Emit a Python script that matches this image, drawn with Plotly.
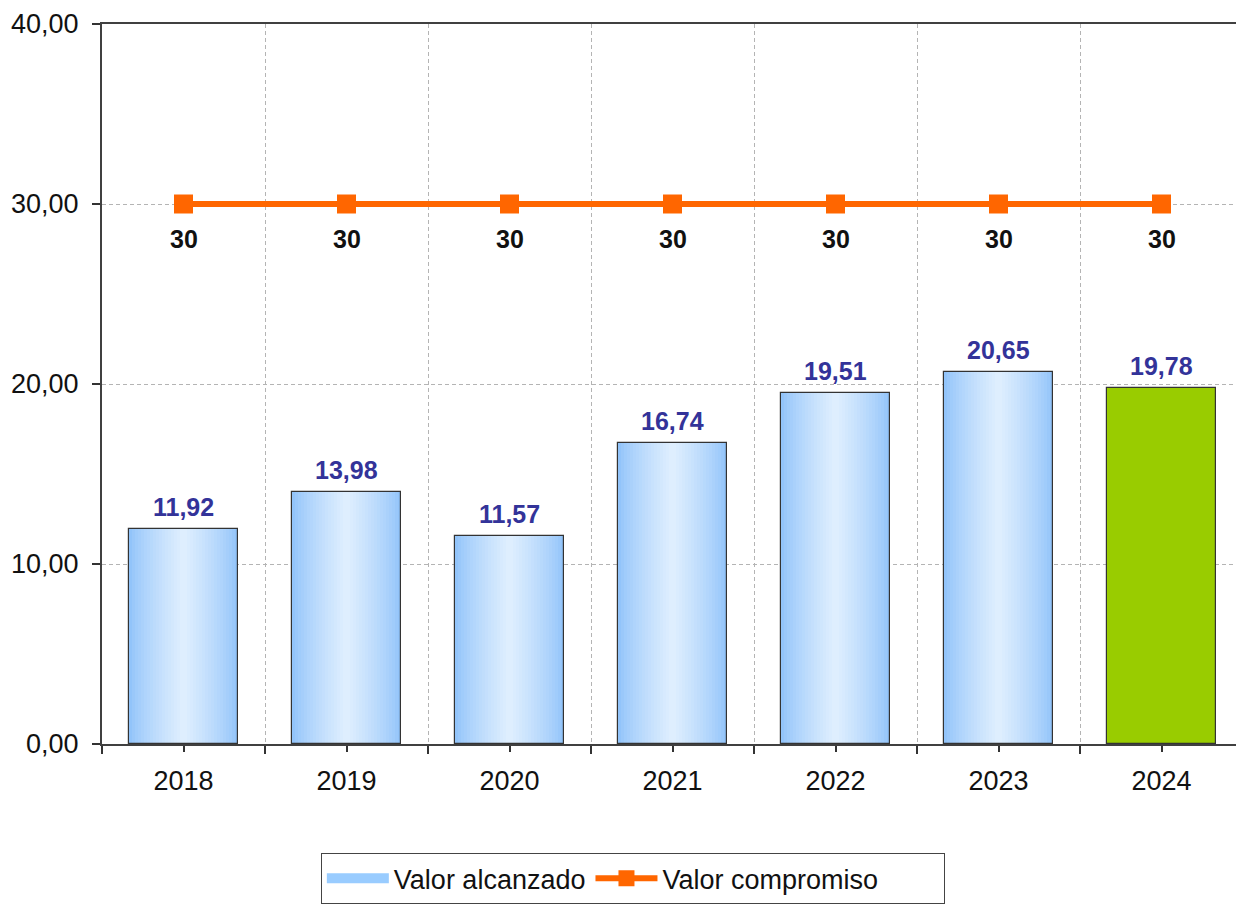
import plotly.graph_objects as go

# ---- data ----
years = ["2018", "2019", "2020", "2021", "2022", "2023", "2024"]
valor_alcanzado = [11.92, 13.98, 11.57, 16.74, 19.51, 20.65, 19.78]
valor_compromiso = [30, 30, 30, 30, 30, 30, 30]
highlight_year = "2024"
y_ticks = [0, 10, 20, 30, 40]
series_names = ["Valor alcanzado", "Valor compromiso"]

# ---- style ----
FONT = "Liberation Sans, Arial, sans-serif"
BAR_W = 0.665
EDGE = (146, 196, 250)
CENTER = (222, 238, 254)
GREEN = "#99CC00"
ORANGE = "#FF6600"
LABEL_BLUE = "#333399"
GRID = "#b4b4b4"

xs = list(range(len(years)))
fig = go.Figure()

n_layers = 18
for k in range(n_layers):
    f = k / (n_layers - 1)
    c = tuple(round(EDGE[i] + (CENTER[i] - EDGE[i]) * (f ** 0.8)) for i in range(3))
    col = "rgb(%d,%d,%d)" % c
    colors = [GREEN if y == highlight_year else col for y in years]
    fig.add_trace(go.Bar(
        x=xs, y=valor_alcanzado,
        width=BAR_W * (1 - k / n_layers),
        marker=dict(color=colors, line=dict(width=0)),
        showlegend=False,
        hoverinfo="skip" if k > 0 else None,
        name=series_names[0],
    ))

# outline on top
fig.add_trace(go.Bar(
    x=xs, y=valor_alcanzado, width=BAR_W,
    marker=dict(color="rgba(0,0,0,0)", line=dict(color="#333333", width=1.2)),
    showlegend=False, hoverinfo="skip",
))

# legend entry for bars
fig.add_trace(go.Scatter(
    x=[None], y=[None], mode="lines",
    line=dict(color="#99CCFF", width=14),
    name=series_names[0], legendrank=1,
))

fig.add_trace(go.Scatter(
    x=xs, y=valor_compromiso, mode="lines+markers",
    line=dict(color=ORANGE, width=6),
    marker=dict(symbol="square", size=19, color=ORANGE),
    name=series_names[1] + "\u00a0" * 8, legendrank=2,
))

annotations = []
for x, v in zip(xs, valor_alcanzado):
    annotations.append(dict(
        x=x, y=v, xref="x", yref="y", text=f"{v:.2f}".replace(".", ","),
        showarrow=False, yanchor="bottom", yshift=6,
        font=dict(family=FONT, size=25, color=LABEL_BLUE, weight="bold"),
    ))
for x, v in zip(xs, valor_compromiso):
    annotations.append(dict(
        x=x, y=v, xref="x", yref="y", text=f"{v:g}",
        showarrow=False, yanchor="middle", yshift=-35,
        font=dict(family=FONT, size=25, color="#111111", weight="bold"),
    ))

fig.update_layout(
    width=1236, height=897,
    margin=dict(l=94, r=1, t=16, b=149),
    paper_bgcolor="white", plot_bgcolor="white",
    barmode="overlay", bargap=0,
    separators=",.",
    font=dict(family=FONT, size=27, color="#111111"),
    annotations=annotations,
    showlegend=True,
    legend=dict(
        orientation="h", x=0.1918, y=-0.1516, xanchor="left", yanchor="top",
        bordercolor="#444444", borderwidth=1, bgcolor="white",
        font=dict(family=FONT, size=27, color="#111111"),
        itemwidth=62, traceorder="normal",
    ),
)

fig.update_xaxes(
    range=[-0.5, len(years) - 0.5], automargin=False,
    tickmode="array", tickvals=xs, ticktext=years,
    ticks="outside", ticklen=6, tickcolor="#333333", tickwidth=1.5,
    showgrid=False, zeroline=False,
    showline=True, linecolor="#404040", linewidth=2, mirror=True,
    tickfont=dict(family=FONT, size=27, color="#111111"),
    ticklabelstandoff=6, ticklabeloverflow="allow",
    minor=dict(tickmode="array", tickvals=[x - 0.5 for x in xs] + [xs[-1] + 0.5],
               ticks="outside", ticklen=8, tickcolor="#333333", tickwidth=1.5,
               showgrid=True, gridcolor=GRID, griddash="4px,3px", gridwidth=1),
)
fig.update_yaxes(
    range=[0, 40], automargin=False,
    tickmode="array", tickvals=y_ticks, tickformat=".2f",
    ticks="outside", ticklen=8, tickcolor="#333333", tickwidth=1.5,
    showgrid=True, gridcolor=GRID, griddash="4px,3px", gridwidth=1,
    zeroline=False,
    showline=True, linecolor="#404040", linewidth=2, mirror=True,
    tickfont=dict(family=FONT, size=27, color="#111111"),
    ticklabelstandoff=8, ticklabeloverflow="allow",
)

fig.write_html("out.html")
